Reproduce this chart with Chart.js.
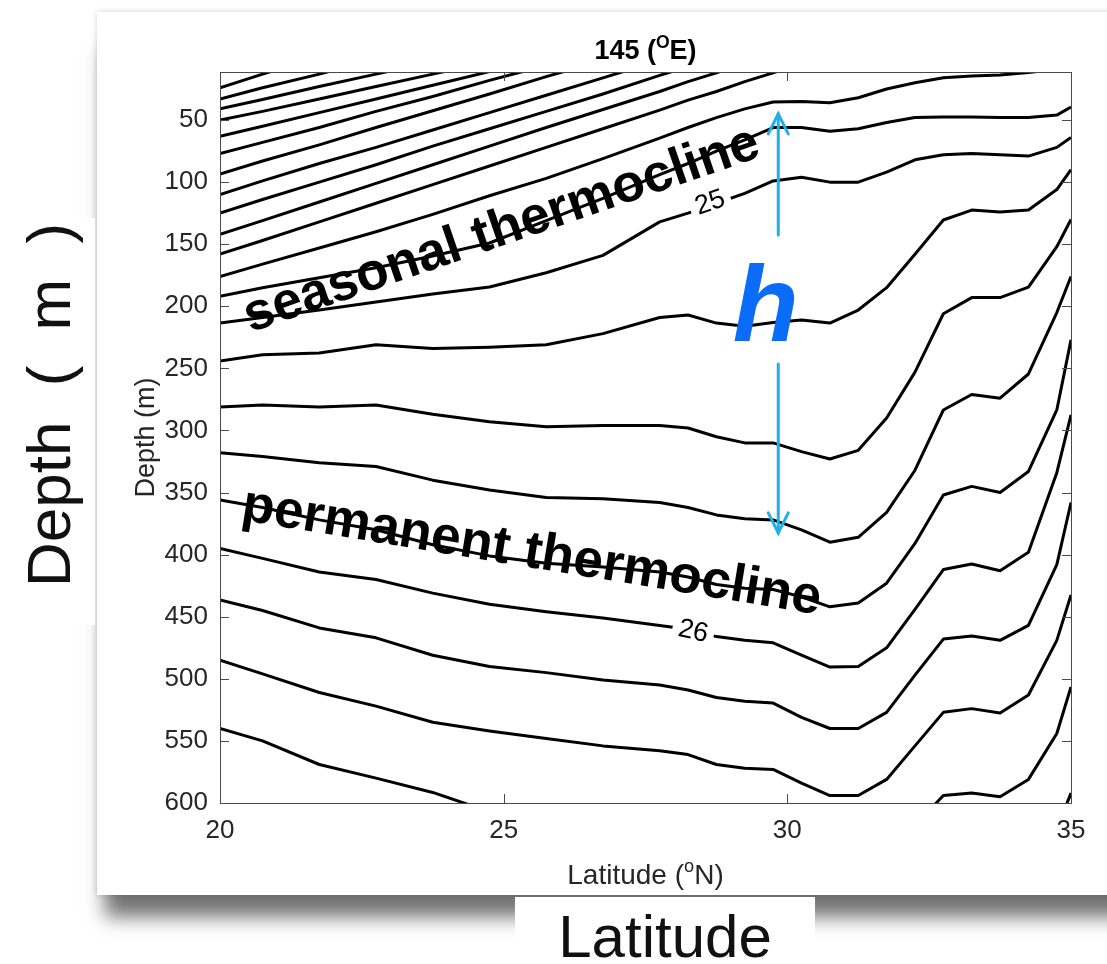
<!DOCTYPE html>
<html>
<head>
<meta charset="utf-8">
<script src="https://cdn.jsdelivr.net/npm/chart.js@4.4.1/dist/chart.umd.min.js"></script>
<style>
  html, body { margin: 0; padding: 0; background: #fff; width: 1107px; height: 964px; overflow: hidden; font-family: "Liberation Sans", Arial, sans-serif; }
  #card { position: absolute; left: 97px; top: 12px; width: 1100px; height: 883px; background: #fff;
          box-shadow: 0 30px 18px -8px rgba(0,0,0,0.55), 0 0 6px rgba(0,0,0,0.18); }
  #chart { position: absolute; left: 0; top: 0; }
  .big { position: absolute; background: #fff; color: #111; font-size: 60px; white-space: nowrap; }
  #depthBox { left: 0; top: 218px; width: 95px; height: 407px; }
  #depthBox span { position: absolute; left: 50%; top: 46%; font-size: 62px; word-spacing: 18px;
                   transform: translate(-50%, -50%) rotate(-90deg); }
  #latBox { left: 515px; top: 897px; width: 300px; height: 67px; text-align: center; line-height: 80px; }
</style>
</head>
<body>
<div id="card"></div>
<canvas id="chart" width="1107" height="964"></canvas>
<div class="big" id="depthBox"><span>Depth ( m )</span></div>
<div class="big" id="latBox">Latitude</div>
<script>
// section along 145E, density contours (every 0.2), depth in m
const latitude = [20, 20.75, 21.75, 22.75, 23.75, 24.75, 25.75, 26.75, 27.75, 28.25, 28.75, 29.25,
                  29.75, 30.25, 30.75, 31.25, 31.75, 32.25, 32.75, 33.25, 33.75, 34.25, 34.75, 35];

const s22_4 = [24, 13, -1, null, null, null, null, null, null, null, null, null, null, null, null, null, null, null, null, null, null, null, null, null];
const s22_6 = [33, 24, 13, 1, null, null, null, null, null, null, null, null, null, null, null, null, null, null, null, null, null, null, null, null];
const s22_8 = [41, 33.5, 23, 13, 3, null, null, null, null, null, null, null, null, null, null, null, null, null, null, null, null, null, null, null];
const s23_0 = [50, 43, 33, 23, 13, 3, null, null, null, null, null, null, null, null, null, null, null, null, null, null, null, null, null, null];
const s23_2 = [63, 55, 44, 33, 22, 11, null, null, null, null, null, null, null, null, null, null, null, null, null, null, null, null, null, null];
const s23_4 = [77, 68, 56, 43, 31, 18, 6, null, null, null, null, null, null, null, null, null, null, null, null, null, null, null, null, null];
const s23_6 = [93.5, 83, 70, 56, 42.5, 29, 15, 2, null, null, null, null, null, null, null, null, null, null, null, null, null, null, null, null];
const s23_8 = [110, 99, 85, 72, 58, 44, 30, 16, 2, null, null, null, null, null, null, null, null, null, null, null, null, null, null, null];
const s24_0 = [125, 114, 100, 86, 71, 57, 43, 29, 14, 7, null, null, null, null, null, null, null, null, null, null, null, null, null, null];
const s24_2 = [142, 131, 116, 101, 86, 71, 56, 41.5, 27, 19, 12, 4, null, null, null, null, null, null, null, null, null, null, null, null];
const s24_4 = [158, 147, 132, 117, 102, 87, 72, 57, 42, 34, 27, 19, 12, 4, null, null, null, null, null, null, null, null, null, null];
const s24_6 = [176, 166, 153, 140, 126, 111, 97, 81, 64.5, 56, 48, 41, 35.5, 35, 36, 32, 25, 20, 16, 14.6, 13.8, 11.8, 9, null];
const s24_8 = [192, 185, 177, 169, 159.5, 149, 131, 113, 94, 85, 75, 66, 56, 56, 59, 57, 52, 48, 47.6, 47.6, 48, 48, 46, 39.5];
const s25_0 = [213.5, 209, 203, 196.5, 190, 184.5, 173, 159, 132, 125, 117, 109, 99, 96, 100, 100, 92, 82, 78, 77, 78, 79, 72, 64];
const s25_2 = [244, 239, 237.6, 231, 234, 233, 231, 222, 209, 207, 213.5, 216, 213, 211, 213.5, 203, 185, 158, 130.5, 122.5, 124, 122.5, 106, 90];
const s25_4 = [281, 279.5, 281, 279.5, 287, 293, 297, 296, 296, 298, 305, 310, 310, 317, 323, 316, 290, 253, 206, 193, 193, 184.5, 152, 130];
const s25_6 = [318, 321, 326, 329, 340, 348, 354, 355, 358, 362, 368, 371, 372, 380, 390, 386, 366, 332, 283.5, 271, 274, 254.5, 205, 176];
const s25_8 = [356, 362, 372, 380, 392, 401, 407, 410, 414, 418, 424, 427, 428, 434, 442, 439, 423, 391, 352, 345, 350, 333, 283.5, 227];
const s26_0 = [395, 403, 414, 420, 431, 440, 446, 451, 457, 460, 466, 469, 471, 481, 490.5, 490, 475, 444, 412, 407.5, 413, 398, 334, 287.5];
const s26_2 = [436.5, 445, 459, 467, 481, 490, 495, 501, 505, 509, 515, 518, 519.5, 531, 540, 540, 527, 497, 468, 465.5, 469, 457, 408, 358];
const s26_4 = [485, 496, 511, 522, 535, 542, 548, 554, 558, 561, 569, 572, 573, 584, 594, 594, 581, 554, 527, 524, 527.5, 513, 469, 432.5];
const s26_6 = [540, 550, 569, 580, 591.5, 607, null, null, null, null, null, null, null, null, null, null, null, null, null, null, null, null, null, null];
const s26_8 = [null, null, null, null, null, null, null, null, null, null, null, null, null, null, null, null, null, 618, 594, 592, 595, 581, 544, 506.5];
const s27_0 = [null, null, null, null, null, null, null, null, null, null, null, null, null, null, null, null, null, null, null, null, null, null, 621, 592];

const contourLevels = [22.4, 22.6, 22.8, 23.0, 23.2, 23.4, 23.6, 23.8, 24.0, 24.2, 24.4, 24.6,
                       24.8, 25.0, 25.2, 25.4, 25.6, 25.8, 26.0, 26.2, 26.4, 26.6, 26.8, 27.0];
const contourDepths = [s22_4, s22_6, s22_8, s23_0, s23_2, s23_4, s23_6, s23_8, s24_0, s24_2, s24_4, s24_6,
                       s24_8, s25_0, s25_2, s25_4, s25_6, s25_8, s26_0, s26_2, s26_4, s26_6, s26_8, s27_0];

const xTicks = [20, 25, 30, 35];
const yTicks = [50, 100, 150, 200, 250, 300, 350, 400, 450, 500, 550, 600];

const FONT = '"Liberation Sans", Arial, sans-serif';

// draws "text(sup)text" centred on x
function supText(ctx, x, y, parts, size, weight) {
  let w = 0;
  parts.forEach(p => {
    ctx.font = weight + ' ' + (p[1] ? size * 0.65 : size) + 'px ' + FONT;
    w += ctx.measureText(p[0]).width;
  });
  let cx = x - w / 2;
  ctx.textAlign = 'left';
  parts.forEach(p => {
    ctx.font = weight + ' ' + (p[1] ? size * 0.65 : size) + 'px ' + FONT;
    ctx.fillText(p[0], cx, p[1] ? y - size * 0.42 : y);
    cx += ctx.measureText(p[0]).width;
  });
}

function rotText(ctx, text, px, py, deg, font, color, gap) {
  ctx.save();
  ctx.translate(px, py);
  ctx.rotate(deg * Math.PI / 180);
  ctx.font = font;
  if (gap) {
    const w = ctx.measureText(text).width;
    ctx.fillStyle = '#fff';
    ctx.fillRect(-w / 2 - 6, -gap / 2, w + 12, gap);
  }
  ctx.fillStyle = color;
  ctx.textAlign = 'center';
  ctx.textBaseline = 'middle';
  ctx.fillText(text, 0, 0);
  ctx.restore();
}

function arrowHead(ctx, x, y, dir) {
  ctx.beginPath();
  ctx.moveTo(x - 10, y + dir * 20);
  ctx.lineTo(x, y);
  ctx.lineTo(x + 10, y + dir * 20);
  ctx.stroke();
}

const decor = {
  id: 'decor',
  afterDatasetsDraw(chart) {
    const { ctx } = chart;
    const x = chart.scales.x, y = chart.scales.y;
    // contour labels
    rotText(ctx, '25', x.getPixelForValue(28.64), y.getPixelForValue(116.8), -19, '27px ' + FONT, '#000', 24);
    rotText(ctx, '26', x.getPixelForValue(28.34), y.getPixelForValue(462), 12, '27px ' + FONT, '#000', 24);

    // thermocline names
    ctx.save();
    ctx.translate(x.getPixelForValue(25.05), y.getPixelForValue(150));
    ctx.rotate(-19 * Math.PI / 180);
    ctx.font = 'bold 53px ' + FONT;
    ctx.fillStyle = '#000';
    ctx.textAlign = 'center';
    ctx.fillText('seasonal thermocline', 0, 0);
    ctx.restore();

    ctx.save();
    ctx.translate(x.getPixelForValue(25.45), y.getPixelForValue(410));
    ctx.rotate(9.3 * Math.PI / 180);
    ctx.font = 'bold 53px ' + FONT;
    ctx.fillStyle = '#000';
    ctx.textAlign = 'center';
    ctx.fillText('permanent thermocline', 0, 0);
    ctx.restore();

    // h arrow
    const ax = x.getPixelForValue(29.84);
    ctx.save();
    ctx.strokeStyle = '#1fb0e8';
    ctx.lineWidth = 3;
    ctx.lineCap = 'round';
    ctx.beginPath();
    ctx.moveTo(ax, y.getPixelForValue(45));
    ctx.lineTo(ax, y.getPixelForValue(142.6));
    ctx.moveTo(ax, y.getPixelForValue(246.5));
    ctx.lineTo(ax, y.getPixelForValue(382.5));
    ctx.stroke();
    arrowHead(ctx, ax, y.getPixelForValue(45), 1);
    arrowHead(ctx, ax, y.getPixelForValue(382.5), -1);
    ctx.font = 'italic bold 108px ' + FONT;
    ctx.fillStyle = '#0a6cf7';
    ctx.textAlign = 'center';
    ctx.fillText('h', x.getPixelForValue(29.62), y.getPixelForValue(228));
    ctx.restore();
  },
  afterDraw(chart) {
    const { ctx, chartArea: a } = chart;
    const x = chart.scales.x, y = chart.scales.y;
    ctx.save();
    ctx.strokeStyle = '#4a4a4a';
    ctx.lineWidth = 1;
    ctx.strokeRect(a.left + 0.5, a.top + 0.5, a.right - a.left, a.bottom - a.top);
    ctx.beginPath();
    xTicks.forEach(v => {
      const px = Math.round(x.getPixelForValue(v)) + 0.5;
      ctx.moveTo(px, a.bottom); ctx.lineTo(px, a.bottom - 9);
      ctx.moveTo(px, a.top); ctx.lineTo(px, a.top + 9);
    });
    yTicks.forEach(v => {
      const py = Math.round(y.getPixelForValue(v)) + 0.5;
      ctx.moveTo(a.left, py); ctx.lineTo(a.left + 9, py);
      ctx.moveTo(a.right, py); ctx.lineTo(a.right - 9, py);
    });
    ctx.stroke();

    ctx.fillStyle = '#000';
    ctx.textBaseline = 'alphabetic';
    supText(ctx, (a.left + a.right) / 2, 59, [['145 (', false], ['O', true], ['E)', false]], 27, 'bold');
    ctx.fillStyle = '#262626';
    supText(ctx, (a.left + a.right) / 2, 884, [['Latitude (', false], ['o', true], ['N)', false]], 28, 'normal');

    ctx.translate(154, (a.top + a.bottom) / 2);
    ctx.rotate(-Math.PI / 2);
    ctx.font = '27px ' + FONT;
    ctx.textAlign = 'center';
    ctx.fillText('Depth (m)', 0, 0);
    ctx.restore();
  }
};

new Chart(document.getElementById('chart'), {
  type: 'line',
  data: {
    datasets: contourDepths.map((depths, i) => ({
      label: String(contourLevels[i]),
      data: latitude.map((lat, j) => ({ x: lat, y: depths[j] })),
      borderColor: '#000',
      borderWidth: 3,
      borderJoinStyle: 'round',
      pointRadius: 0,
      tension: 0,
      fill: false,
      spanGaps: false,
      clip: 0
    }))
  },
  options: {
    responsive: false,
    animation: false,
    events: [],
    layout: { padding: { left: 0, right: 36, top: 72, bottom: 0 } },
    plugins: { legend: { display: false }, tooltip: { enabled: false }, title: { display: false } },
    scales: {
      x: {
        type: 'linear', min: 20, max: 35,
        afterBuildTicks: s => { s.ticks = xTicks.map(v => ({ value: v })); },
        afterFit: s => { s.height = 161; },
        grid: { display: false, drawTicks: false },
        border: { display: false },
        ticks: { padding: 12, maxRotation: 0, color: '#262626', font: { family: FONT, size: 26 } }
      },
      y: {
        type: 'linear', reverse: true, min: 11.3, max: 600,
        afterBuildTicks: s => { s.ticks = yTicks.map(v => ({ value: v })); },
        afterFit: s => { s.width = 220; },
        grid: { display: false, drawTicks: false },
        border: { display: false },
        ticks: { padding: 12, color: '#262626', font: { family: FONT, size: 26 } }
      }
    }
  },
  plugins: [decor]
});
</script>
</body>
</html>
